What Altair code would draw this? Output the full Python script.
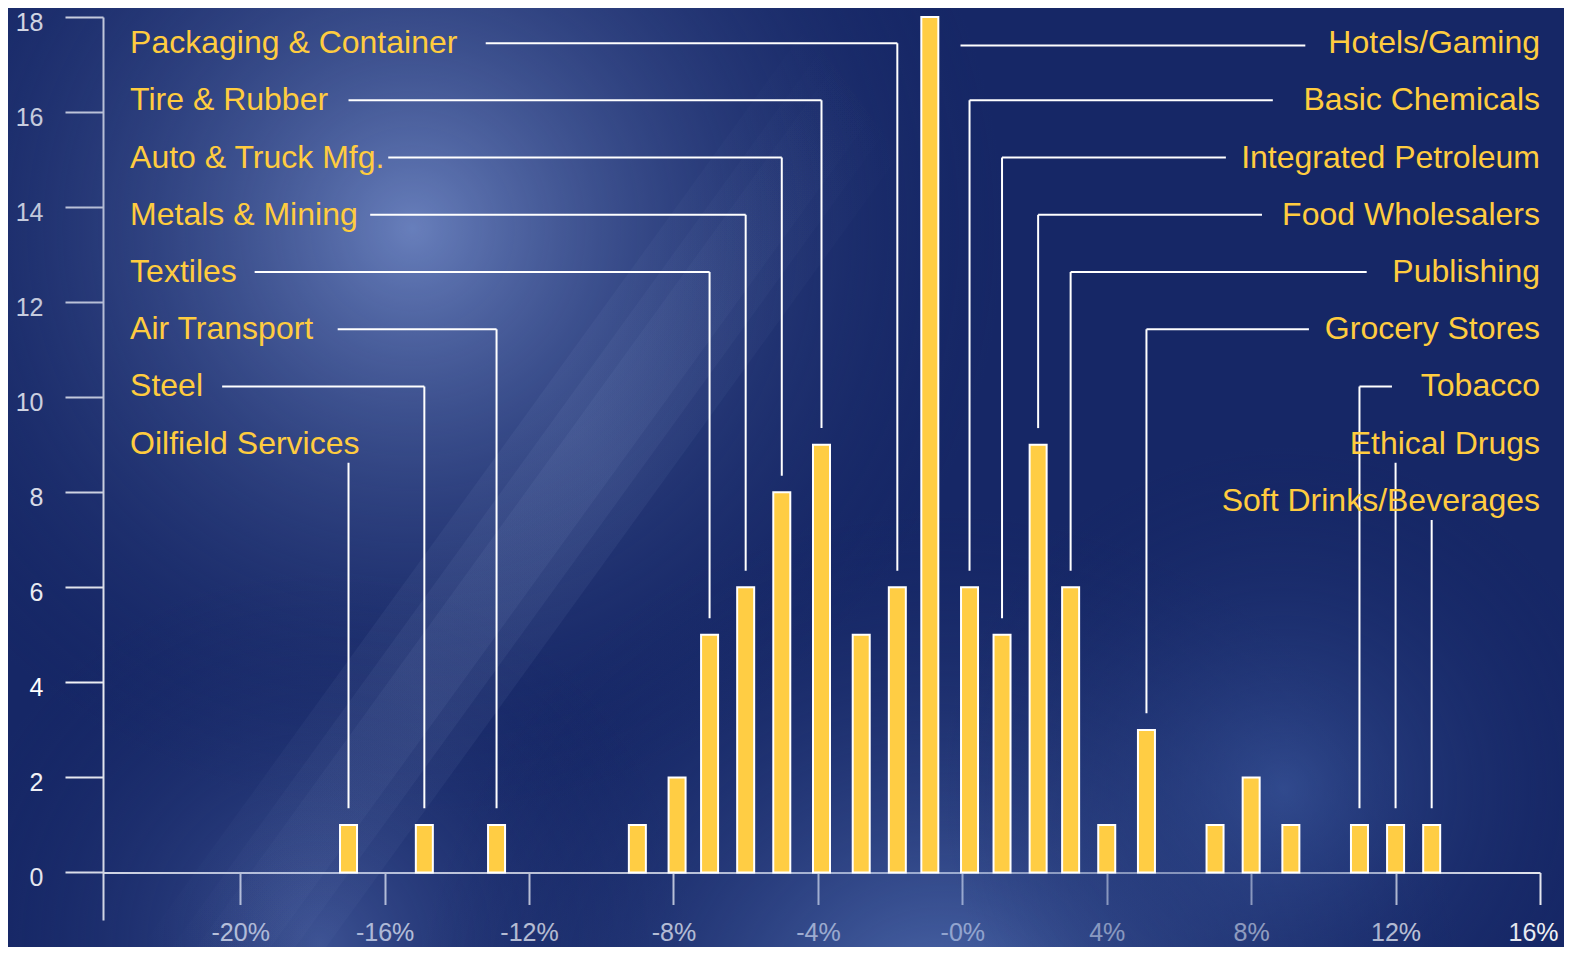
import altair as alt
import pandas as pd

# ---------------- data ----------------
bin_centers = [-17.0, -14.9, -12.9, -9.0, -7.9, -7.0, -6.0, -5.0, -3.9, -2.8, -1.8, -0.9,
               0.2, 1.1, 2.1, 3.0, 4.0, 5.1, 7.0, 8.0, 9.1, 11.0, 12.0, 13.0]
counts = [1, 1, 1, 1, 2, 5, 6, 8, 9, 5, 6, 18, 6, 5, 9, 6, 1, 3, 1, 2, 1, 1, 1, 1]

left_labels = ["Packaging & Container", "Tire & Rubber", "Auto & Truck Mfg.", "Metals & Mining",
               "Textiles", "Air Transport", "Steel", "Oilfield Services"]
left_targets = [10, 8, 7, 6, 5, 2, 1, 0]          # index of the bar each label points to
left_line_from = [-13.2, -17.0, -15.9, -16.4, -19.6, -17.3, -20.5, None]

right_labels = ["Hotels/Gaming", "Basic Chemicals", "Integrated Petroleum", "Food Wholesalers",
                "Publishing", "Grocery Stores", "Tobacco", "Ethical Drugs", "Soft Drinks/Beverages"]
right_targets = [11, 12, 13, 14, 15, 17, 21, 22, 23]
right_line_to = [9.5, 8.6, 7.3, 8.3, 11.2, 9.6, 11.9, None, None]

x_ticks = [-20, -16, -12, -8, -4, 0, 4, 8, 12, 16]
y_ticks = list(range(0, 19, 2))

# ---------------- layout constants ----------------
W, H = 1437, 903
PAD = {"left": 95, "top": 9, "right": 24, "bottom": 27}
ROW0, ROW_STEP = 17.45, 1.204
YELLOW = "#FFCC3F"
FONT = "Liberation Sans"

def row_y(i):
    return ROW0 - ROW_STEP * i

# ---------------- tables ----------------
bars = pd.DataFrame({"pos": bin_centers, "count": counts})

texts, segs = [], []
for i, (lab, t, lf) in enumerate(zip(left_labels, left_targets, left_line_from)):
    ry = row_y(i)
    bx, bc = bin_centers[t], counts[t]
    texts.append({"x": -23.05, "y": ry, "label": lab, "side": "left"})
    if lf is not None:
        segs.append({"x": lf, "x2": bx, "y": ry, "y2": ry})
        segs.append({"x": bx, "x2": bx, "y": ry, "y2": bc + 0.35})
    else:
        segs.append({"x": bx, "x2": bx, "y": ry - 0.4, "y2": bc + 0.35})

for i, (lab, t, lt) in enumerate(zip(right_labels, right_targets, right_line_to)):
    ry = row_y(i)
    bx, bc = bin_centers[t], counts[t]
    texts.append({"x": 16.0, "y": ry, "label": lab, "side": "right"})
    if lt is not None:
        if bc + 0.35 >= ry:           # bar taller than the label row: plain pointer line
            segs.append({"x": bx + 0.85, "x2": lt, "y": ry - 0.05, "y2": ry - 0.05})
        else:
            segs.append({"x": bx, "x2": lt, "y": ry, "y2": ry})
            segs.append({"x": bx, "x2": bx, "y": ry, "y2": bc + 0.35})
    else:
        segs.append({"x": bx, "x2": bx, "y": ry - 0.4, "y2": bc + 0.35})

texts = pd.DataFrame(texts)
segs = pd.DataFrame(segs)

# ---------------- scales / axes ----------------
xscale = alt.Scale(domain=[-23.8, 16], nice=False, zero=False, padding=0)
yscale = alt.Scale(domain=[-1, 18], nice=False, zero=False, padding=0)

xaxis = alt.Axis(values=x_ticks, labelExpr="datum.value === 0 ? '-0%' : datum.value + '%'",
                 labelOffset={"condition": {"test": "datum.value >= 16", "value": -7}, "value": 0},
                 offset=-47.5, tickSize=32, labelPadding=16, labelFontSize=25, labelFont=FONT,
                 labelColor="white", tickColor="white", domainColor="white", tickWidth=2,
                 domainWidth=2, grid=False, title=None, labelFlush=False, labelOverlap=False)
yaxis = alt.Axis(values=y_ticks, tickSize=38, labelPadding=22, labelFontSize=25, labelFont=FONT,
                 labelOffset=5,
                 labelColor="white", tickColor="white", domainColor="white", tickWidth=2,
                 domainWidth=2, grid=False, title=None, labelFlush=False, labelOverlap=False)

# ---------------- background ----------------
def glow(cx, cy, r, color):
    return alt.Chart(pd.DataFrame({"a": [0]})).mark_rect(
        fill=alt.RadialGradient(
            gradient="radial", x1=cx, y1=cy, r1=0, x2=cx, y2=cy, r2=r,
            stops=[alt.GradientStop(color=color, offset=0),
                   alt.GradientStop(color="rgba(22,39,102,0)", offset=1)])
    ).encode(x=alt.value(-PAD["left"]), x2=alt.value(W + PAD["right"]),
             y=alt.value(-PAD["top"]), y2=alt.value(H + PAD["bottom"]))

bg = [
    glow(0.26, 0.34, 0.38, "rgba(118,142,202,0.85)"),
    glow(0.20, 0.80, 0.24, "rgba(90,115,182,0.55)"),
    glow(0.60, 0.86, 0.34, "rgba(100,132,200,0.8)"),
    glow(0.37, 0.93, 0.12, "rgba(115,72,135,0.6)"),
    glow(0.82, 0.70, 0.22, "rgba(65,95,165,0.6)"),
    glow(0.55, 0.04, 0.14, "rgba(95,105,160,0.5)"),
]

# faint diagonal light streak (decorative, pixel space), fading at both ends
streak = pd.DataFrame({"px": [80, 760], "py": [1000, 60]})
streak_fill = alt.LinearGradient(
    gradient="linear", x1=0, y1=1, x2=1, y2=0,
    stops=[alt.GradientStop(color="rgba(176,198,240,0)", offset=0),
           alt.GradientStop(color="rgba(176,198,240,1)", offset=0.35),
           alt.GradientStop(color="rgba(176,198,240,1)", offset=0.6),
           alt.GradientStop(color="rgba(176,198,240,0)", offset=1)])
streak_layers = [
    alt.Chart(streak).mark_line(stroke=streak_fill, opacity=0.06, strokeWidth=w, strokeCap="butt").encode(
        x=alt.X("px:Q", scale=None), y=alt.Y("py:Q", scale=None))
    for w in (150, 100, 60)
]

# ---------------- marks ----------------
rules = alt.Chart(segs).mark_rule(color="white", strokeWidth=2).encode(
    x=alt.X("x:Q", scale=xscale, axis=xaxis), x2="x2:Q",
    y=alt.Y("y:Q", scale=yscale, axis=yaxis), y2="y2:Q")

bar_layer = alt.Chart(bars).mark_bar(size=17, fill="#FFCD44", stroke="white", strokeWidth=2).encode(
    x=alt.X("pos:Q", scale=xscale, axis=xaxis),
    y=alt.Y("count:Q", scale=yscale, axis=yaxis),
    y2=alt.datum(0))

left_text = alt.Chart(texts[texts.side == "left"]).mark_text(
    align="left", baseline="middle", font=FONT, fontSize=32, color=YELLOW).encode(
    x=alt.X("x:Q", scale=xscale, axis=xaxis), y=alt.Y("y:Q", scale=yscale, axis=yaxis), text="label:N")
right_text = alt.Chart(texts[texts.side == "right"]).mark_text(
    align="right", baseline="middle", font=FONT, fontSize=32, color=YELLOW).encode(
    x=alt.X("x:Q", scale=xscale, axis=xaxis), y=alt.Y("y:Q", scale=yscale, axis=yaxis), text="label:N")

chart = alt.layer(*bg, *streak_layers, rules, bar_layer, left_text, right_text).properties(
    width=W, height=H, autosize=alt.AutoSizeParams(type="none"), padding=PAD,
    background="#162766"
).configure_view(stroke=None)

chart.save("out.html", embed_options={"renderer": "svg", "actions": False})
